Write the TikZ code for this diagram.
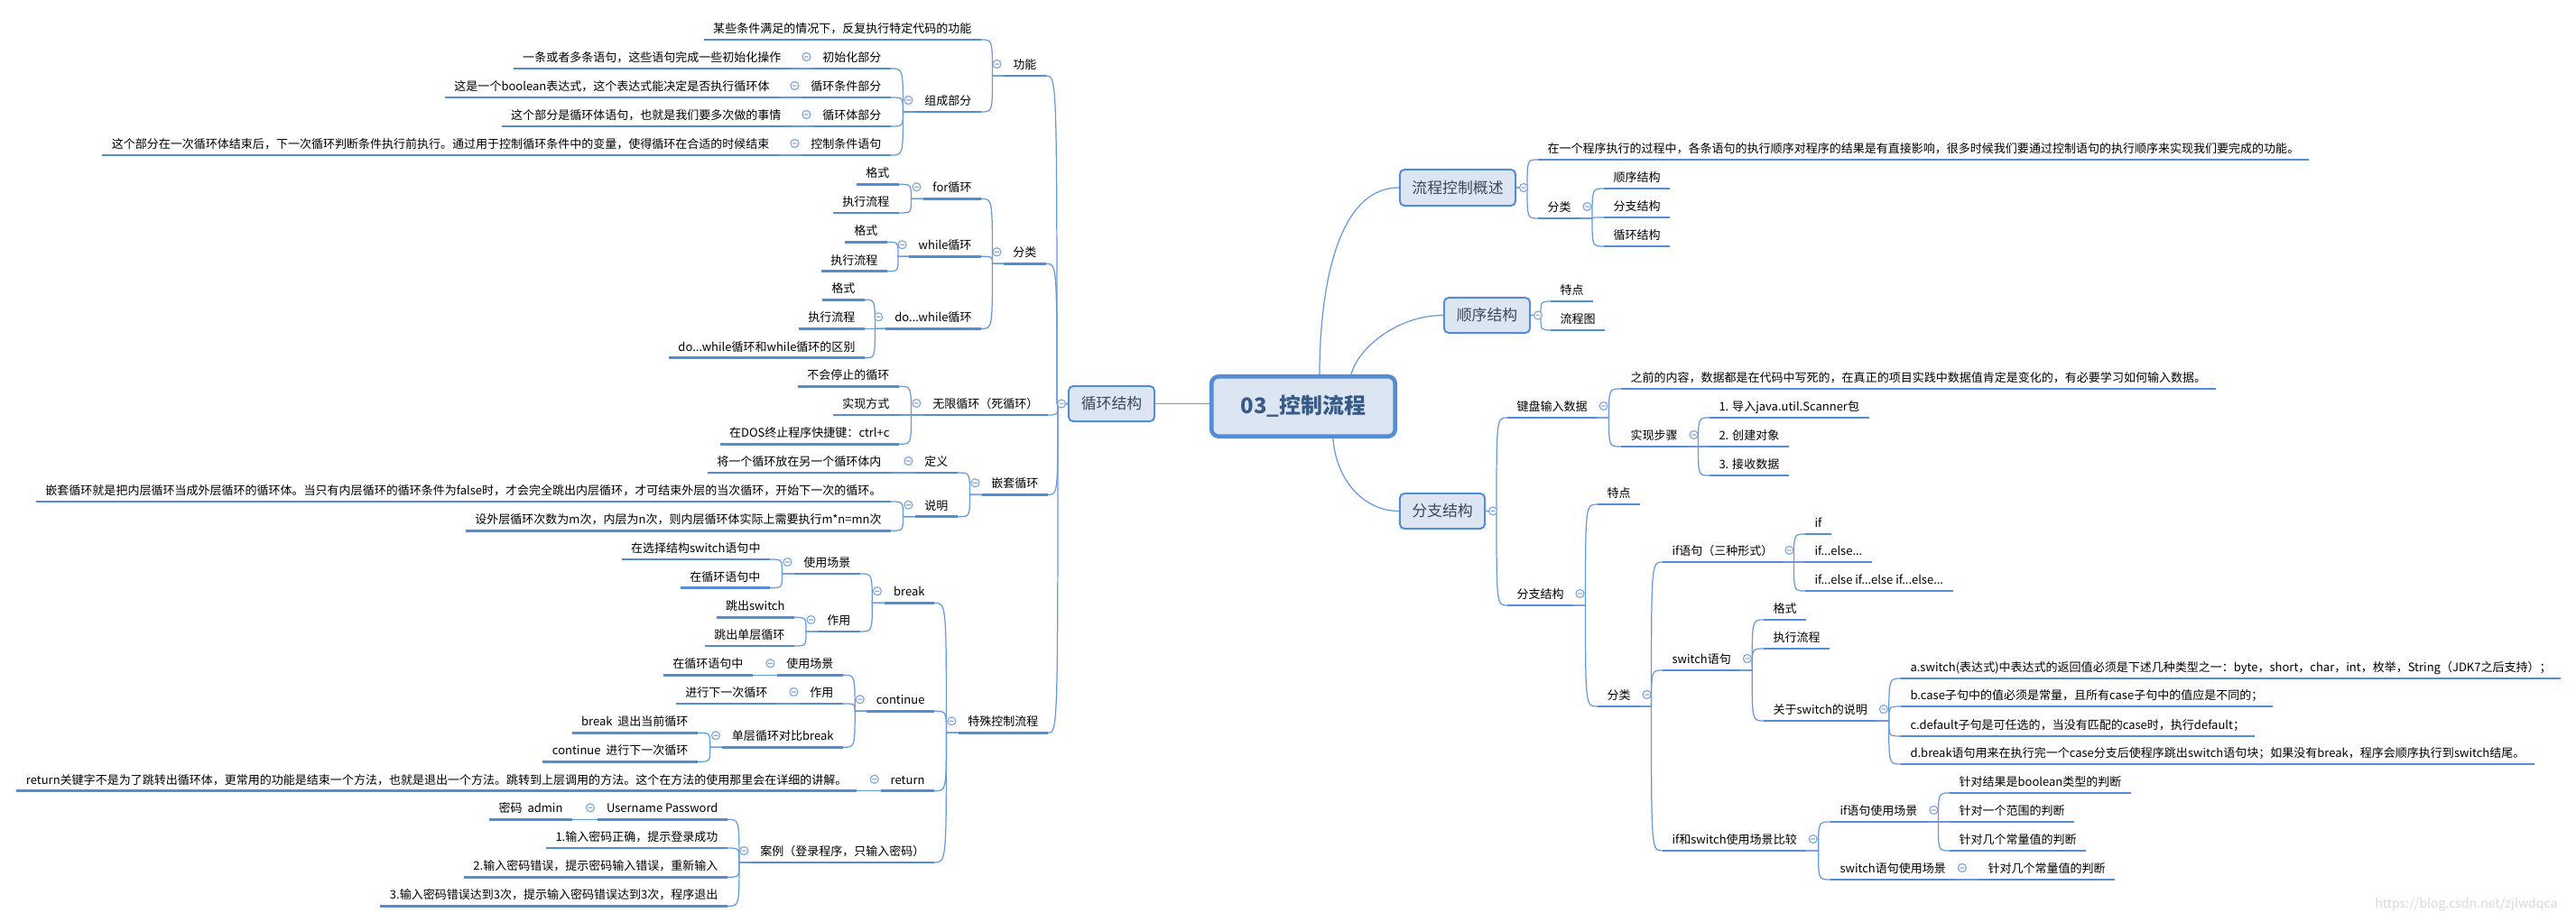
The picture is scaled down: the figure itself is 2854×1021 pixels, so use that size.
\documentclass[tikz,border=0pt]{standalone}
\usepackage{fontspec}
\setmainfont{Noto Sans CJK SC}
\usetikzlibrary{calc}
\definecolor{xmblue}{RGB}{84,141,212}
\definecolor{linkblue}{RGB}{105,152,214}
\definecolor{boxfill}{RGB}{220,230,242}
\definecolor{topictext}{RGB}{60,72,90}
\definecolor{coretext}{RGB}{55,90,135}
\definecolor{foldblue}{RGB}{135,170,220}

% fold marker and parent-to-children connectors
\newcommand\foldmark[1]{\filldraw[fold] (#1) circle[radius=4.5] +(-2.3,0) -- +(2.3,0);}
\newcommand\branchto[3]{%
  \foreach \kid in {#3}{%
    \coordinate (mid) at ($(#1)!.5!(\kid.#2)$);
    \draw[conn] (#1) -- (mid |- #1) .. controls (mid |- \kid.#2) and (mid |- \kid.#2) .. (\kid.#2);
  }}
\newcommand\lsub[2]{\branchto{#1.south west}{south east}{#2}\foldmark{$(#1.south west)+(-7.5,-13)$}}
\newcommand\rsub[2]{\branchto{#1.south east}{south west}{#2}\foldmark{$(#1.south east)+(7.5,-13)$}}
\newcommand\lmain[2]{\branchto{#1.west}{south east}{#2}\foldmark{$(#1.west)+(-7,0)$}}
\newcommand\rmain[2]{\branchto{#1.east}{south west}{#2}\foldmark{$(#1.east)+(8,0)$}}

\begin{document}
\begin{tikzpicture}[x=0.01cm, y=-0.01cm,
    topic/.style={inner xsep=0.105cm, inner ysep=0pt, outer sep=0pt,
                  text height=0.1cm, text depth=0.075cm, text=black,
                  font=\fontsize{3.7pt}{4.4pt}\selectfont,
                  append after command={\pgfextra{\let\ulnode\tikzlastnode}
                    (\ulnode.south west) edge[uline] (\ulnode.south east)}},
    ltopic/.style={topic, anchor=south east},
    rtopic/.style={topic, anchor=south west},
    uline/.style={draw=xmblue, line width=0.75pt},
    conn/.style={draw=linkblue, line width=0.35pt},
    fold/.style={draw=foldblue, fill=white, line width=0.35pt},
    mainbox/.style={rectangle, rounded corners=0.05cm, draw=xmblue, fill=boxfill,
                    line width=0.57pt, inner sep=0pt, text=topictext,
                    font=\fontsize{4.8pt}{5.8pt}\selectfont}
]
    \useasboundingbox (0,0) rectangle (2854,1021);
    \fill[white] (0,0) rectangle (2854,1021);

    % Central and main topics
    \node[mainbox, rounded corners=0.08cm, line width=1.3pt, minimum width=2.034cm, minimum height=0.664cm,
          text=coretext, font=\bfseries\fontsize{6.8pt}{8pt}\selectfont] (core) at (1444,450.5) {03\_控制流程};
    \node[mainbox, minimum width=0.95cm, minimum height=0.39cm] (loop) at (1231.5,447.5) {循环结构};
    \node[mainbox, minimum width=1.28cm, minimum height=0.40cm] (ovw) at (1615,208) {流程控制概述};
    \node[mainbox, minimum width=0.95cm, minimum height=0.39cm] (seq) at (1647.5,349.5) {顺序结构};
    \node[mainbox, minimum width=0.94cm, minimum height=0.39cm] (br) at (1598,566.5) {分支结构};

    \draw[conn] (loop.east) -- (loop.east -| core.west);
    \draw[conn] ($(core.north west)+(122,0)$) .. controls +(0,-75) and +(-75,0) .. (ovw.west);
    \draw[conn] ($(core.north west)+(157,0)$) .. controls +(8,-30) and +(-50,0) .. (seq.west);
    \draw[conn] ($(core.south west)+(137,0)$) .. controls +(3,45) and +(-40,0) .. (br.west);

    % Loop structure (left side)
    \node[ltopic] (fn) at (1159,84) {功能};
    \node[ltopic] (fn1) at (1087,44) {某些条件满足的情况下，反复执行特定代码的功能};
    \node[ltopic] (part) at (1087,124) {组成部分};
    \node[ltopic] (p1) at (987,76) {初始化部分};
    \node[ltopic] (p1t) at (876,76) {一条或者多条语句，这些语句完成一些初始化操作};
    \node[ltopic] (p2) at (987,108) {循环条件部分};
    \node[ltopic] (p2t) at (863,108) {这是一个boolean表达式，这个表达式能决定是否执行循环体};
    \node[ltopic] (p3) at (987,140) {循环体部分};
    \node[ltopic] (p3t) at (876,140) {这个部分是循环体语句，也就是我们要多次做的事情};
    \node[ltopic] (p4) at (987,172) {控制条件语句};
    \node[ltopic] (p4t) at (863,172) {这个部分在一次循环体结束后，下一次循环判断条件执行前执行。通过用于控制循环条件中的变量，使得循环在合适的时候结束};

    \node[ltopic] (cls) at (1159,292.3) {分类};
    \node[ltopic] (fr) at (1087,220.3) {for循环};
    \node[ltopic] (fr1) at (996,204.3) {格式};
    \node[ltopic] (fr2) at (996,236) {执行流程};
    \node[ltopic] (wh) at (1087,284.3) {while循环};
    \node[ltopic] (wh1) at (983,268.3) {格式};
    \node[ltopic] (wh2) at (983,300.7) {执行流程};
    \node[ltopic] (dw) at (1087,364.3) {do...while循环};
    \node[ltopic] (dw1) at (958,332.3) {格式};
    \node[ltopic] (dw2) at (958,364.3) {执行流程};
    \node[ltopic] (dw3) at (958,396.7) {do...while循环和while循环的区别};

    \node[ltopic] (inf) at (1161,460) {无限循环（死循环）};
    \node[ltopic] (inf1) at (996,428.3) {不会停止的循环};
    \node[ltopic] (inf2) at (996,460) {实现方式};
    \node[ltopic] (inf3) at (996,492.3) {在DOS终止程序快捷键：ctrl+c};

    \node[ltopic] (nest) at (1161,548.3) {嵌套循环};
    \node[ltopic] (def) at (1061,524) {定义};
    \node[ltopic] (def1) at (987,524) {将一个循环放在另一个循环体内};
    \node[ltopic] (expl) at (1061,572.7) {说明};
    \node[ltopic] (expl1) at (987,556) {嵌套循环就是把内层循环当成外层循环的循环体。当只有内层循环的循环条件为false时，才会完全跳出内层循环，才可结束外层的当次循环，开始下一次的循环。};
    \node[ltopic] (expl2) at (987,588.3) {设外层循环次数为m次，内层为n次，则内层循环体实际上需要执行m*n=mn次};

    \node[ltopic] (spc) at (1161,812.3) {特殊控制流程};
    \node[ltopic] (brk) at (1035,668.3) {break};
    \node[ltopic] (bu) at (953,636) {使用场景};
    \node[ltopic] (bu1) at (853,620) {在选择结构switch语句中};
    \node[ltopic] (bu2) at (853,651.7) {在循环语句中};
    \node[ltopic] (bf) at (953,700) {作用};
    \node[ltopic] (bf1) at (880,684.3) {跳出switch};
    \node[ltopic] (bf2) at (880,716) {跳出单层循环};
    \node[ltopic] (cnt) at (1035,788.3) {continue};
    \node[ltopic] (cu) at (934,748.3) {使用场景};
    \node[ltopic] (cu1) at (834,748.3) {在循环语句中};
    \node[ltopic] (cf) at (934,780) {作用};
    \node[ltopic] (cf1) at (861,780) {进行下一次循环};
    \node[ltopic] (cmp) at (934,828.3) {单层循环对比break};
    \node[ltopic] (cmp1) at (773,812.3) {break\ \ 退出当前循环};
    \node[ltopic] (cmp2) at (773,844.3) {continue\ \ 进行下一次循环};
    \node[ltopic] (ret) at (1035,876.7) {return};
    \node[ltopic] (ret1) at (949,876.7) {return关键字不是为了跳转出循环体，更常用的功能是结束一个方法，也就是退出一个方法。跳转到上层调用的方法。这个在方法的使用那里会在详细的讲解。};
    \node[ltopic] (demo) at (1035,956) {案例（登录程序，只输入密码）};
    \node[ltopic] (usr) at (806,908.3) {Username Password};
    \node[ltopic] (usr1) at (634,908.3) {密码\ \ admin};
    \node[ltopic] (d1) at (806,940) {1.输入密码正确，提示登录成功};
    \node[ltopic] (d2) at (806,972.3) {2.输入密码错误，提示密码输入错误，重新输入};
    \node[ltopic] (d3) at (806,1004.3) {3.输入密码错误达到3次，提示输入密码错误达到3次，程序退出};

    % Overview and sequence (right side)
    \node[rtopic] (ovw1) at (1704,177) {在一个程序执行的过程中，各条语句的执行顺序对程序的结果是有直接影响，很多时候我们要通过控制语句的执行顺序来实现我们要完成的功能。};
    \node[rtopic] (ocls) at (1704,242) {分类};
    \node[rtopic] (oc1) at (1777,209) {顺序结构};
    \node[rtopic] (oc2) at (1777,241) {分支结构};
    \node[rtopic] (oc3) at (1777,273) {循环结构};
    \node[rtopic] (sq1) at (1718,334) {特点};
    \node[rtopic] (sq2) at (1718,366) {流程图};

    % Branch structure (right side)
    \node[rtopic] (kb) at (1670,463) {键盘输入数据};
    \node[rtopic] (kb1) at (1796,431) {之前的内容，数据都是在代码中写死的，在真正的项目实践中数据值肯定是变化的，有必要学习如何输入数据。};
    \node[rtopic] (kst) at (1796,495) {实现步骤};
    \node[rtopic] (ks1) at (1894,463) {1. 导入java.util.Scanner包};
    \node[rtopic] (ks2) at (1894,495) {2. 创建对象};
    \node[rtopic] (ks3) at (1894,527) {3. 接收数据};
    \node[rtopic] (bs) at (1670,671) {分支结构};
    \node[rtopic] (bs1) at (1770,559) {特点};
    \node[rtopic] (bcls) at (1770,783) {分类};
    \node[rtopic] (ifs) at (1842,623) {if语句（三种形式）};
    \node[rtopic] (if1) at (2000,592) {if};
    \node[rtopic] (if2) at (2000,623) {if...else...};
    \node[rtopic] (if3) at (2000,655) {if...else if...else if...else...};
    \node[rtopic] (sw) at (1842,743) {switch语句};
    \node[rtopic] (sw1) at (1954,687) {格式};
    \node[rtopic] (sw2) at (1954,719) {执行流程};
    \node[rtopic] (swn) at (1954,799) {关于switch的说明};
    \node[rtopic] (swa) at (2106,752) {a.switch(表达式)中表达式的返回值必须是下述几种类型之一：byte，short，char，int，枚举，String（JDK7之后支持）；};
    \node[rtopic] (swb) at (2106,783) {b.case子句中的值必须是常量，且所有case子句中的值应是不同的；};
    \node[rtopic] (swc) at (2106,816) {c.default子句是可任选的，当没有匹配的case时，执行default；};
    \node[rtopic] (swd) at (2106,847) {d.break语句用来在执行完一个case分支后使程序跳出switch语句块；如果没有break，程序会顺序执行到switch结尾。};
    \node[rtopic] (cmpr) at (1842,943) {if和switch使用场景比较};
    \node[rtopic] (ifu) at (2028,911) {if语句使用场景};
    \node[rtopic] (ifu1) at (2160,879) {针对结果是boolean类型的判断};
    \node[rtopic] (ifu2) at (2160,911) {针对一个范围的判断};
    \node[rtopic] (ifu3) at (2160,943) {针对几个常量值的判断};
    \node[rtopic] (swu) at (2028,975) {switch语句使用场景};
    \node[rtopic] (swu1) at (2192,975) {针对几个常量值的判断};

    % Connectors
    \lmain{loop}{fn,cls,inf,nest,spc}
    \lsub{fn}{fn1,part}
    \lsub{part}{p1,p2,p3,p4}
    \lsub{p1}{p1t}
    \lsub{p2}{p2t}
    \lsub{p3}{p3t}
    \lsub{p4}{p4t}
    \lsub{cls}{fr,wh,dw}
    \lsub{fr}{fr1,fr2}
    \lsub{wh}{wh1,wh2}
    \lsub{dw}{dw1,dw2,dw3}
    \lsub{inf}{inf1,inf2,inf3}
    \lsub{nest}{def,expl}
    \lsub{def}{def1}
    \lsub{expl}{expl1,expl2}
    \lsub{spc}{brk,cnt,ret,demo}
    \lsub{brk}{bu,bf}
    \lsub{bu}{bu1,bu2}
    \lsub{bf}{bf1,bf2}
    \lsub{cnt}{cu,cf,cmp}
    \lsub{cu}{cu1}
    \lsub{cf}{cf1}
    \lsub{cmp}{cmp1,cmp2}
    \lsub{ret}{ret1}
    \lsub{demo}{usr,d1,d2,d3}
    \lsub{usr}{usr1}

    \rmain{ovw}{ovw1,ocls}
    \rsub{ocls}{oc1,oc2,oc3}
    \rmain{seq}{sq1,sq2}
    \rmain{br}{kb,bs}
    \rsub{kb}{kb1,kst}
    \rsub{kst}{ks1,ks2,ks3}
    \rsub{bs}{bs1,bcls}
    \rsub{bcls}{ifs,sw,cmpr}
    \rsub{ifs}{if1,if2,if3}
    \rsub{sw}{sw1,sw2,swn}
    \rsub{swn}{swa,swb,swc,swd}
    \rsub{cmpr}{ifu,swu}
    \rsub{ifu}{ifu1,ifu2,ifu3}
    \rsub{swu}{swu1}

    % Watermark
    \node[anchor=east, text=black!15, font=\fontsize{4pt}{5pt}\selectfont] (wm) at (2846,1003) {https://blog.csdn.net/zjlwdqca};
\end{tikzpicture}
\end{document}
